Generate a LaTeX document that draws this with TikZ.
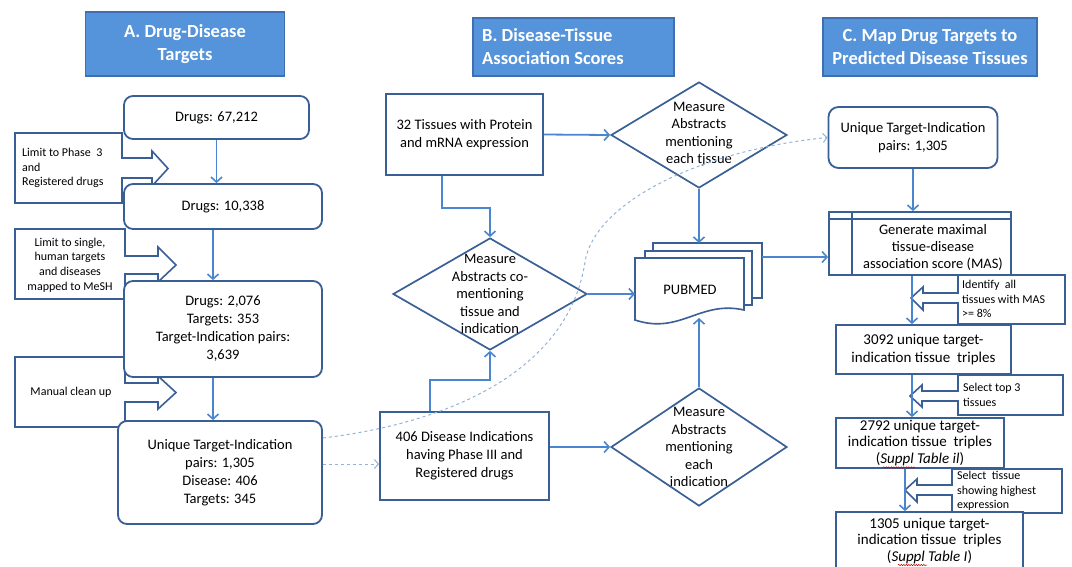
\documentclass[tikz,border=0pt]{standalone}
\usepackage{fontspec}
\setmainfont{Carlito}
\usetikzlibrary{arrows.meta,shapes.geometric,decorations.pathmorphing}
\definecolor{boxline}{HTML}{3A5F95}
\definecolor{connc}{HTML}{4A86CD}
\definecolor{headfill}{HTML}{5594DA}
\definecolor{headline}{HTML}{3F6FB0}
\definecolor{dashc}{HTML}{93B3DA}
\begin{document}
\begin{tikzpicture}[x=1pt,y=-1pt,
  txt/.style={inner sep=0pt, align=center, font=\fontsize{14.5}{18}\selectfont},
  rbox/.style={draw=boxline, line width=1.8pt, rounded corners=9pt, fill=white, align=center, inner sep=0pt, font=\fontsize{14.5}{18}\selectfont},
  sbox/.style={draw=boxline, line width=1.8pt, fill=white, align=center, inner sep=0pt, font=\fontsize{14.5}{18}\selectfont},
  tbox/.style={draw=boxline, line width=1.8pt, fill=white, align=center, inner sep=0pt, font=\fontsize{15}{16.5}\selectfont},
  headbox/.style={draw=headline, fill=headfill, line width=1.4pt, inner sep=0pt},
  headtxt/.style={text=white, font=\bfseries\fontsize{18.5}{23}\selectfont, inner sep=0pt},
  diam/.style={diamond, draw=boxline, line width=1.7pt, inner sep=0pt, fill=white},
  dtxt/.style={inner sep=0pt, align=center, font=\fontsize{14.5}{17.5}\selectfont},
  callout/.style={draw=boxline, line width=1.6pt, fill=white},
  ctxt/.style={inner sep=0pt, font=\fontsize{12}{14.6}\selectfont},
  rctxt/.style={inner sep=0pt, align=left, font=\fontsize{12}{14.5}\selectfont},
  arr/.style={draw=connc, line width=1.8pt, -{Straight Barb[length=5pt,width=11pt,line width=1.6pt]}},
  dashconn/.style={draw=dashc, line width=1pt, dash pattern=on 3pt off 3pt, -{Straight Barb[length=4pt,width=9pt,line width=1pt]}},
  squig/.style={draw=red!80!black, line width=0.5pt, decorate, decoration={snake, amplitude=0.7pt, segment length=2.5pt}}
]
\fill[white] (0,0) rectangle (1072,566);
\useasboundingbox (0,0) rectangle (1072,566);

% ---------- headings ----------
\node[headbox, minimum width=199pt, minimum height=64pt] (hA) at (185,44) {};
\node[headtxt, align=center] (hAt) at (hA) {A. Drug-Disease\\Targets};
\node[headbox, minimum width=201pt, minimum height=58pt] (hB) at (573.5,47) {};
\node[headtxt, align=left, anchor=west] (hBt) at (482,47) {B. Disease-Tissue\\Association Scores};
\node[headbox, minimum width=214pt, minimum height=58pt] (hC) at (930,47) {};
\node[headtxt, align=center] (hCt) at (hC) {C. Map Drug Targets to\\Predicted Disease Tissues};

% ---------- left callouts ----------
\draw[callout] (122,133) -- (15,133) -- (15,203) -- (122,203) -- (122,178) -- (152,178) -- (152,186) -- (168,168.5) -- (152,151) -- (152,158) -- (122,158) -- cycle;
\node[ctxt, align=left, anchor=west] (c1) at (22,168) {Limit to Phase\ \ 3\\and\\Registered drugs};
\draw[callout] (125,229) -- (15,229) -- (15,299) -- (125,299) -- (125,274) -- (158,274) -- (158,282) -- (176,265) -- (158,247) -- (158,256) -- (125,256) -- cycle;
\node[ctxt, align=center] (c2) at (70,265) {Limit to single,\\human targets\\and diseases\\mapped to MeSH};
\draw[callout] (125,357) -- (15,357) -- (15,427) -- (125,427) -- (125,402) -- (158,402) -- (158,409) -- (176,392.5) -- (158,376) -- (158,383) -- (125,383) -- cycle;
\node[ctxt] (c3) at (71,392) {Manual clean up};

% ---------- left boxes ----------
\node[rbox, minimum width=185pt, minimum height=43pt] (d1) at (216.5,117.5) {Drugs: 67,212};
\node[rbox, minimum width=198pt, minimum height=45pt] (d2) at (223,206.5) {Drugs: 10,338};
\node[rbox, minimum width=198pt, minimum height=96pt] (d3) at (223,329) {Drugs: 2,076\\Targets: 353\\Target-Indication pairs:\\3,639};
\node[rbox, minimum width=204pt, minimum height=103pt] (d4) at (220,472.5) {Unique Target-Indication\\pairs: 1,305\\Disease: 406\\Targets: 345};

\draw[arr] (d1.south) -- (d1.south |- d2.north);
\draw[arr] ([xshift=-10pt]d2.south) -- ([xshift=-10pt]d2.south |- d3.north);
\draw[arr] ([xshift=-10pt]d3.south) -- ([xshift=-10pt]d3.south |- d4.north);

% ---------- middle ----------
\node[sbox, minimum width=157pt, minimum height=81pt] (tis) at (464.5,134.5) {32 Tissues with Protein\\and mRNA expression};
\node[diam, minimum width=176pt, minimum height=106pt] (dt) at (699,135) {};
\node[dtxt] (dtt) at (699,134) {Measure\\Abstracts\\mentioning\\each tjssue};
\node[diam, minimum width=194pt, minimum height=112pt] (dc) at (490,294) {};
\node[dtxt] (dct) at (490,294) {Measure\\Abstracts co-\\mentioning\\tissue and\\indication};
\node[sbox, minimum width=169pt, minimum height=88pt] (dis) at (464.5,456) {406 Disease Indications\\having Phase III and\\Registered drugs};
\node[diam, minimum width=176pt, minimum height=118pt] (di) at (699,447) {};
\node[dtxt] (dit) at (699,447) {Measure\\Abstracts\\mentioning\\each\\indication};

% PUBMED multi-document
\filldraw[draw=boxline, line width=1.6pt, fill=white] (653,243) rectangle (762,298);
\filldraw[draw=boxline, line width=1.6pt, fill=white] (645,251) rectangle (752,305);
\filldraw[draw=boxline, line width=1.6pt, fill=white] (635,258) -- (744,258) -- (744,310) .. controls (700,300) and (680,335) .. (635,320) -- cycle;
\node[txt] (pub) at (690,290) {PUBMED};
\coordinate (pubtop) at (699,243);
\coordinate (pubbot) at (699,318);
\coordinate (publeft) at (635,294);
\coordinate (pubright) at (762,257);

\draw[arr] (tis.east) -- (dt.west);
\draw[arr] ([xshift=-22.5pt]tis.south) -- ++(0,32) -| (dc.north);
\draw[arr] (dc.east) -- (publeft);
\draw[arr] ([xshift=-34.5pt]dis.north) -- ++(0,-31) -| (dc.south);
\draw[arr] (dis.east |- di.west) -- (di.west);
\draw[arr] (dt.south) -- (pubtop);
\draw[arr] (di.north) -- (pubbot);

% ---------- right ----------
\node[rbox, rounded corners=10pt, minimum width=169pt, minimum height=61pt] (u) at (913,137.5) {Unique Target-Indication\\pairs: 1,305};
\node[sbox, minimum width=182pt, minimum height=63pt] (mas) at (920,243.5) {};
\draw[boxline, line width=1.5pt] ([yshift=-8pt]mas.north west) -- ([yshift=-8pt]mas.north east);
\draw[boxline, line width=1.5pt] ([xshift=24pt]mas.north west) -- ([xshift=24pt]mas.south west);
\node[dtxt, font=\fontsize{14.5}{17}\selectfont] (mast) at (933,247) {Generate maximal\\tissue-disease\\association score (MAS)};

\draw[arr] (pubright) -- (pubright -| mas.west);

\draw[callout] (958,293) -- (958,275) -- (1065,275) -- (1065,324) -- (958,324) -- (958,303) -- (923,303) -- (923,310) -- (911,298) -- (923,287) -- (923,293) -- cycle;
\node[rctxt, anchor=west] (r1) at (962,299) {Identify\ \ all\\tissues with MAS\\>= 8\%};
\draw[callout] (958,391) -- (958,375) -- (1063,375) -- (1063,415) -- (958,415) -- (958,401) -- (922,401) -- (922,407) -- (910,396) -- (922,385) -- (922,391) -- cycle;
\node[rctxt, anchor=west] (r2) at (963,395) {Select top 3\\tissues};
\draw[callout] (952,485) -- (952,469) -- (1062,469) -- (1062,513) -- (952,513) -- (952,495) -- (917,495) -- (917,502) -- (905,490) -- (917,479) -- (917,485) -- cycle;
\node[rctxt, anchor=west] (r3) at (957,491) {Select\ \ tissue\\showing highest\\expression};

\node[tbox, font=\fontsize{15}{18.5}\selectfont, minimum width=175pt, minimum height=49pt] (t1) at (923.5,349.5) {3092 unique target-\\indication tissue\ \ triples};
\node[tbox, minimum width=168pt, minimum height=50pt] (t2) at (920,443) {2792 unique target-\\indication tissue\ \ triples\\(\textit{Suppl Table il})};
\node[tbox, minimum width=187pt, minimum height=58pt] (t3) at (929.5,541) {1305 unique target-\\indication tissue\ \ triples\\(\textit{Suppl Table I})};
\draw[squig] (883,467.5) -- (915,467.5);
\draw[squig] (898,565) -- (927,565);

\draw[arr] (u.south) -- (u.south |- mas.north);
\draw[arr] ([xshift=-8pt]mas.south) -- ([xshift=-8pt]mas.south |- t1.north);
\draw[arr] ([xshift=-11.5pt]t1.south) -- ([xshift=-11.5pt]t1.south |- t2.north);
\draw[arr] ([xshift=-15pt]t2.south) -- ([xshift=-15pt]t2.south |- t3.north);

% ---------- dashed links ----------
\draw[dashconn] ([yshift=34.5pt]d4.east) .. controls (470,420) and (570,360) .. (585,262) .. controls (594,203) and (700,150) .. (u.west);
\draw[dashconn] ([yshift=8.5pt]d4.east) -- ([yshift=8.5pt]d4.east -| dis.west);
\end{tikzpicture}
\end{document}
